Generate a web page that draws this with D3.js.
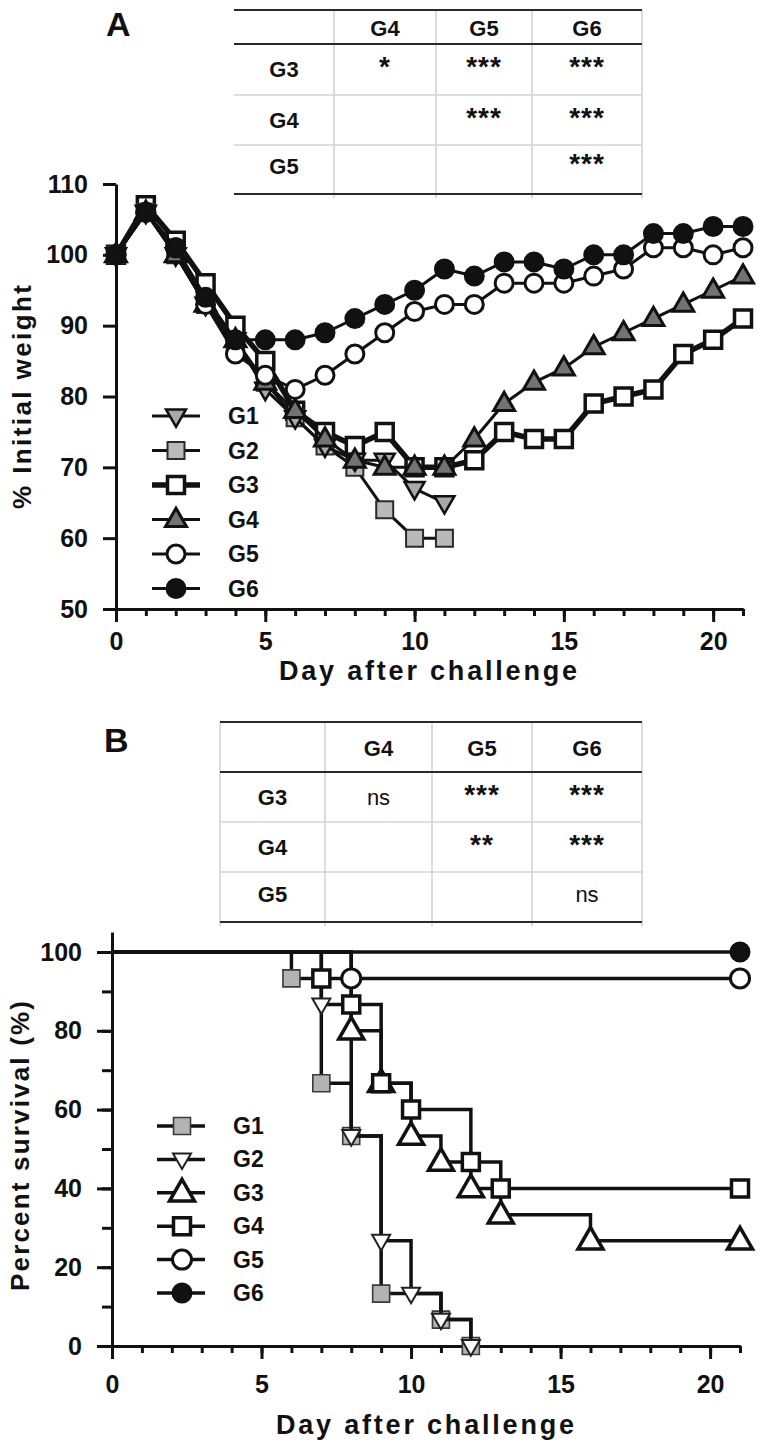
<!DOCTYPE html>
<html><head><meta charset="utf-8">
<script src="https://cdn.jsdelivr.net/npm/d3@7/dist/d3.min.js"></script>
<style>
html,body{margin:0;padding:0;background:#fff;}
svg{display:block;}
text{font-family:"Liberation Sans",Arial,Helvetica,sans-serif;fill:#111;}
</style></head><body>
<svg id="chart" width="762" height="1450"></svg>
<script>
// ---------------- DATA ----------------
const groups = ["G1","G2","G3","G4","G5","G6"];
const weightDays = [0,1,2,3,4,5,6,7,8,9,10,11,12,13,14,15,16,17,18,19,20,21];
const weightG1 = [100,106,100,93,88,81,77,73,71,71,67,65];
const weightG2 = [100,106,100,93,87,82,77,73,70,64,60,60];
const weightG3 = [100,107,102,96,90,85,78,75,73,75,70,70,71,75,74,74,79,80,81,86,88,91];
const weightG4 = [100,106,100,93,88,82,78,74,71,70,70,70,74,79,82,84,87,89,91,93,95,97];
const weightG5 = [100,106,101,93,86,83,81,83,86,89,92,93,93,96,96,96,97,98,101,101,100,101];
const weightG6 = [100,106,101,94,88,88,88,89,91,93,95,98,97,99,99,98,100,100,103,103,104,104];

// survival: days at which the curve steps, and the new level (%)
const survDaysG1 = [6,7,8,9,11,12];
const survValsG1 = [93.3,66.7,53.3,13.3,6.7,0];
const survDaysG2 = [7,8,9,10,11,12];
const survValsG2 = [86.7,53.3,26.7,13.3,6.7,0];
const survDaysG3 = [8,9,10,11,12,13,16,21];
const survValsG3 = [80,66.7,53.3,46.7,40,33.3,26.7,26.7];
const survDaysG4 = [7,8,9,10,12,13,21];
const survValsG4 = [93.3,86.7,66.7,60,46.7,40,40];
const survDaysG5 = [8,21];
const survValsG5 = [93.3,93.3];
const survDaysG6 = [21];
const survValsG6 = [100];

const weightTicks = [50,60,70,80,90,100,110];
const survTicks = [0,20,40,60,80,100];
const survMinorTicks = [0,10,20,30,40,50,60,70,80,90,100];
const dayTicks = [0,5,10,15,20];
const dayMinorTicks = d3.range(0,22);

const tableCols = ["G4","G5","G6"];
const tableRows = ["G3","G4","G5"];
const sigA = [["*","***","***"],["","***","***"],["","","***"]];
const sigB = [["ns","***","***"],["","**","***"],["","","ns"]];

// ---------------- HELPERS ----------------
const svg = d3.select("#chart");
const INK = "#111";

function markerPath(shape, s){
  if(shape==="square"){const h=s/2;return `M${-h},${-h}H${h}V${h}H${-h}Z`;}
  if(shape==="up"){const h=s*0.87;return `M0,${-h*0.62}L${s/2},${h*0.38}L${-s/2},${h*0.38}Z`;}
  if(shape==="down"){const h=s*0.87;return `M0,${h*0.62}L${s/2},${-h*0.38}L${-s/2},${-h*0.38}Z`;}
  return d3.symbol(d3.symbolCircle, Math.PI*(s/2)*(s/2))();
}
function drawMarker(g,x,y,st){
  g.append("path").attr("d",markerPath(st.shape,st.size))
   .attr("transform",`translate(${x},${y})`)
   .attr("fill",st.fill).attr("stroke",st.stroke).attr("stroke-width",st.sw)
   .attr("stroke-linejoin","miter");
}
function styleAxis(g){
  g.select(".domain").attr("stroke",INK).attr("stroke-width",3);
  g.selectAll(".tick line").attr("stroke",INK).attr("stroke-width",3);
  g.selectAll(".tick text").attr("font-size",25).attr("font-weight","bold").attr("fill",INK)
   .attr("font-family",'"Liberation Sans",Arial,sans-serif');
}

// ---------------- PANEL A ----------------
const xA = d3.scaleLinear().domain([0,21]).range([116,743]);
const yA = d3.scaleLinear().domain([50,110]).range([609,184]);

const stylesA = {
  G1:{shape:"down",size:20,fill:"#a9a9a9",stroke:INK,sw:2.5,lw:3},
  G2:{shape:"square",size:17,fill:"#b9b9b9",stroke:"#2a2a2a",sw:2,lw:3},
  G3:{shape:"square",size:17,fill:"#fff",stroke:INK,sw:3.5,lw:5.5},
  G4:{shape:"up",size:21,fill:"#737373",stroke:INK,sw:3,lw:3},
  G5:{shape:"circle",size:18,fill:"#fff",stroke:INK,sw:3,lw:3},
  G6:{shape:"circle",size:19,fill:INK,stroke:INK,sw:2,lw:3}
};
const weightSeries = {G1:weightG1,G2:weightG2,G3:weightG3,G4:weightG4,G5:weightG5,G6:weightG6};

const gAy = svg.append("g").attr("transform",`translate(${xA(0)},0)`)
  .call(d3.axisLeft(yA).tickValues(weightTicks).tickSize(13).tickPadding(15).tickSizeOuter(0));
styleAxis(gAy);
const gAxMinor = svg.append("g").attr("transform",`translate(0,${yA(50)})`)
  .call(d3.axisBottom(xA).tickValues(dayMinorTicks).tickSize(7).tickFormat("").tickSizeOuter(0));
styleAxis(gAxMinor);
const gAx = svg.append("g").attr("transform",`translate(0,${yA(50)})`)
  .call(d3.axisBottom(xA).tickValues(dayTicks).tickSize(13).tickSizeOuter(0));
styleAxis(gAx);
gAx.selectAll(".tick text").attr("y",32).attr("dy","0.35em");

svg.append("text").attr("x",428).attr("y",671).attr("text-anchor","middle").attr("dominant-baseline","central")
  .attr("font-size",27).attr("font-weight","bold").attr("textLength",298).attr("lengthAdjust","spacing")
  .text("Day after challenge");
svg.append("text").attr("transform","translate(22,397) rotate(-90)").attr("text-anchor","middle")
  .attr("dominant-baseline","central").attr("font-size",26).attr("font-weight","bold")
  .attr("textLength",224).attr("lengthAdjust","spacing").text("% Initial weight");
svg.append("text").attr("x",106).attr("y",36).attr("font-size",34).attr("font-weight","bold").text("A");

const lineA = d3.line().x((d,i)=>xA(weightDays[i])).y(d=>yA(d));
const orderA = ["G3","G2","G1","G4","G5","G6"];
orderA.forEach(k=>{
  const st = stylesA[k], vals = weightSeries[k];
  const g = svg.append("g");
  g.append("path").attr("d",lineA(vals)).attr("fill","none").attr("stroke",INK)
   .attr("stroke-width",st.lw).attr("stroke-linejoin","round");
  vals.forEach((v,i)=>drawMarker(g,xA(weightDays[i]),yA(v),st));
});

groups.forEach((k,i)=>{
  const st = stylesA[k], y = 416 + i*34.5;
  const g = svg.append("g");
  g.append("line").attr("x1",152).attr("x2",200).attr("y1",y).attr("y2",y)
   .attr("stroke",INK).attr("stroke-width",st.lw);
  drawMarker(g,176,y,st);
  g.append("text").attr("x",228).attr("y",y).attr("dominant-baseline","central")
   .attr("font-size",23).attr("font-weight","bold").text(k);
});

// ---------------- TABLES ----------------
function drawTable(xs, ys, sig, leftBorder){
  const g = svg.append("g");
  const vx = leftBorder ? xs : xs.slice(1);
  vx.forEach(x=>g.append("line").attr("x1",x).attr("x2",x).attr("y1",ys[0]).attr("y2",ys[4]+4)
     .attr("stroke","#d4d4d4").attr("stroke-width",1.6));
  ys.forEach((y,i)=>{
    const dark = (i===0||i===1||i===4);
    g.append("line").attr("x1",xs[0]).attr("x2",xs[4]).attr("y1",y).attr("y2",y)
     .attr("stroke",dark?"#2a2a2a":"#d4d4d4").attr("stroke-width",dark?2.2:1.6);
  });
  const cx = i => (xs[i]+xs[i+1])/2;
  const hy = (ys[0]+ys[1])/2;
  tableCols.forEach((c,j)=>g.append("text").attr("x",cx(j+1)).attr("y",hy+1).attr("text-anchor","middle")
     .attr("dominant-baseline","central").attr("font-size",22).attr("font-weight","bold").text(c));
  tableRows.forEach((r,i)=>{
    const ry = (ys[i+1]+ys[i+2])/2 - (i===2?3:0);
    g.append("text").attr("x",cx(0)).attr("y",ry).attr("text-anchor","middle")
     .attr("dominant-baseline","central").attr("font-size",22).attr("font-weight","bold").text(r);
    sig[i].forEach((s,j)=>{
      if(!s) return;
      const isNs = s==="ns";
      g.append("text").attr("x",cx(j+1)).attr("y",isNs?ry:ry-3).attr("text-anchor","middle")
       .attr("dominant-baseline","central").attr("font-size",isNs?22:28)
       .attr("font-weight",isNs?"normal":"bold").attr("letter-spacing",isNs?0:1).text(s);
    });
  });
}
drawTable([234,334,436,532,642],[10,44,95,145,194],sigA,false);
drawTable([220,325,432,532,642],[722,772,822,872,922],sigB,true);

// ---------------- PANEL B ----------------
const xB = d3.scaleLinear().domain([0,21]).range([112,740]);
const yB = d3.scaleLinear().domain([0,105]).range([1346,932.3]);

const stylesB = {
  G1:{shape:"square",size:17,fill:"#b3b3b3",stroke:"#3a3a3a",sw:1.6},
  G2:{shape:"down",size:18,fill:"#fff",stroke:"#222",sw:2},
  G3:{shape:"up",size:25,fill:"#fff",stroke:INK,sw:3.5},
  G4:{shape:"square",size:17,fill:"#fff",stroke:INK,sw:3.5},
  G5:{shape:"circle",size:19,fill:"#fff",stroke:INK,sw:3},
  G6:{shape:"circle",size:19,fill:INK,stroke:INK,sw:2}
};
const survSeries = {
  G1:[survDaysG1,survValsG1],G2:[survDaysG2,survValsG2],G3:[survDaysG3,survValsG3],
  G4:[survDaysG4,survValsG4],G5:[survDaysG5,survValsG5],G6:[survDaysG6,survValsG6]
};

const gByMinor = svg.append("g").attr("transform",`translate(${xB(0)},0)`)
  .call(d3.axisLeft(yB).tickValues(survMinorTicks).tickSize(10).tickFormat("").tickSizeOuter(0));
styleAxis(gByMinor);
const gBy = svg.append("g").attr("transform",`translate(${xB(0)},0)`)
  .call(d3.axisLeft(yB).tickValues(survTicks).tickSize(15).tickPadding(15).tickSizeOuter(0));
styleAxis(gBy);
const gBxMinor = svg.append("g").attr("transform",`translate(0,${yB(0)})`)
  .call(d3.axisBottom(xB).tickValues(dayMinorTicks).tickSize(7).tickFormat("").tickSizeOuter(0));
styleAxis(gBxMinor);
const gBx = svg.append("g").attr("transform",`translate(0,${yB(0)})`)
  .call(d3.axisBottom(xB).tickValues(dayTicks).tickSize(13).tickSizeOuter(0));
styleAxis(gBx);
gBx.selectAll(".tick text").attr("y",38).attr("dy","0.35em");

svg.append("text").attr("x",425).attr("y",1425).attr("text-anchor","middle").attr("dominant-baseline","central")
  .attr("font-size",27).attr("font-weight","bold").attr("textLength",298).attr("lengthAdjust","spacing")
  .text("Day after challenge");
svg.append("text").attr("transform","translate(20,1146) rotate(-90)").attr("text-anchor","middle")
  .attr("dominant-baseline","central").attr("font-size",26).attr("font-weight","bold")
  .attr("textLength",290).attr("lengthAdjust","spacing").text("Percent survival (%)");
svg.append("text").attr("x",104).attr("y",752).attr("font-size",34).attr("font-weight","bold").text("B");

groups.forEach(k=>{
  const [ds,vs] = survSeries[k], st = stylesB[k];
  const g = svg.append("g");
  const path = d3.path();
  path.moveTo(xB(0),yB(100));
  let prev = 100;
  ds.forEach((d,i)=>{ path.lineTo(xB(d),yB(prev)); path.lineTo(xB(d),yB(vs[i])); prev = vs[i]; });
  g.append("path").attr("d",path.toString()).attr("fill","none").attr("stroke",INK)
   .attr("stroke-width",3.5).attr("stroke-linejoin","miter");
  ds.forEach((d,i)=>drawMarker(g,xB(d),yB(vs[i]),st));
});

groups.forEach((k,i)=>{
  const st = stylesB[k], y = 1126 + i*33.4;
  const g = svg.append("g");
  g.append("line").attr("x1",157).attr("x2",205).attr("y1",y).attr("y2",y)
   .attr("stroke",INK).attr("stroke-width",3.5);
  drawMarker(g,182,y,st);
  g.append("text").attr("x",233).attr("y",y).attr("dominant-baseline","central")
   .attr("font-size",23).attr("font-weight","bold").text(k);
});
</script>
</body></html>
